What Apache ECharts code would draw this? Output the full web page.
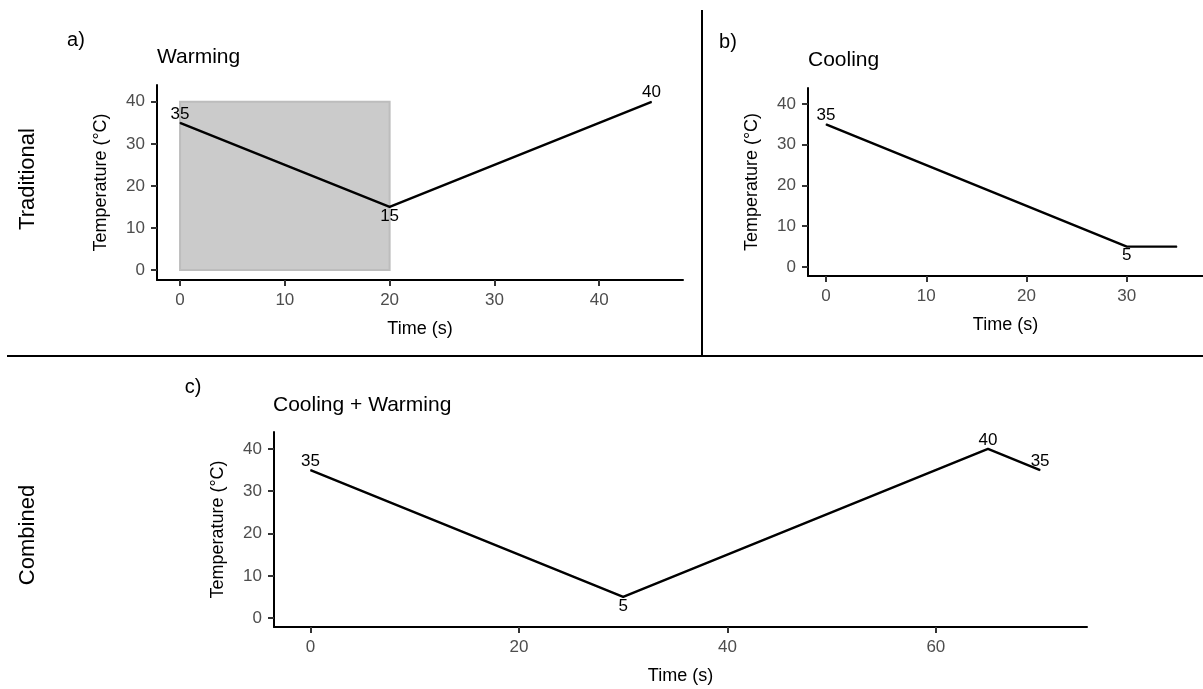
<!DOCTYPE html>
<html>
<head>
<meta charset="utf-8">
<script src="https://cdn.jsdelivr.net/npm/echarts@6/dist/echarts.min.js"></script>
<style>
html,body{margin:0;padding:0;background:#fff;}
#chart{width:1203px;height:689px;}
</style>
</head>
<body>
<div id="chart"></div>
<script>
// ---- data ----
const warmTime = [0, 20, 45];
const warmTemp = [35, 15, 40];
const warmLabels = ['35', '15', '40'];
const shadeTime = [0, 20];
const shadeTemp = [0, 40];

const coolTime = [0, 30, 35];
const coolTemp = [35, 5, 5];
const coolLabels = ['35', '5', ''];

const combTime = [0, 30, 65, 70];
const combTemp = [35, 5, 40, 35];
const combLabels = ['35', '5', '40', '35'];

const yTicks = [0, 10, 20, 30, 40];
const xTicksA = [0, 10, 20, 30, 40];
const xTicksB = [0, 10, 20, 30];
const xTicksC = [0, 20, 40, 60];

const panelTitles = ['Warming', 'Cooling', 'Cooling + Warming'];
const panelTags = ['a)', 'b)', 'c)'];
const rowLabels = ['Traditional', 'Combined'];
const xName = 'Time (s)';
const yName = 'Temperature (°C)';

// ---- chart ----
const FONT = '"Liberation Sans", Arial, sans-serif';
const chart = echarts.init(document.getElementById('chart'), null, {renderer: 'canvas'});

function xAx(gi, min, max, ticks) {
  return {
    type: 'value', gridIndex: gi, min: min, max: max,
    axisLine: {show: true, onZero: false, lineStyle: {color: '#000', width: 2}},
    axisTick: {show: true, customValues: ticks, length: 6, lineStyle: {color: '#333', width: 2}},
    axisLabel: {customValues: ticks, color: '#4d4d4d', fontSize: 17, margin: 12, fontFamily: FONT},
    splitLine: {show: false},
    name: xName, nameLocation: 'middle', nameGap: 40,
    nameTextStyle: {color: '#000', fontSize: 18, fontFamily: FONT}
  };
}
function yAx(gi, min, max) {
  return {
    type: 'value', gridIndex: gi, min: min, max: max,
    axisLine: {show: true, onZero: false, lineStyle: {color: '#000', width: 2}},
    axisTick: {show: true, customValues: yTicks, length: 6, lineStyle: {color: '#333', width: 2}},
    axisLabel: {customValues: yTicks, color: '#4d4d4d', fontSize: 17, margin: 12, fontFamily: FONT},
    splitLine: {show: false},
    name: yName, nameLocation: 'middle', nameGap: 47,
    nameTextStyle: {color: '#000', fontSize: 18, fontFamily: FONT}
  };
}

function buildData(times, temps, labels) {
  return times.map(function (t, i) {
    const interior = i > 0 && i < temps.length - 1;
    const isMin = interior && temps[i] <= temps[i - 1] && temps[i] <= temps[i + 1];
    return {
      value: [t, temps[i]],
      label: {
        show: labels[i] !== '',
        formatter: labels[i],
        position: isMin ? 'bottom' : 'top',
        distance: 0
      }
    };
  });
}

function lineSeries(xi, data, extra) {
  const s = {
    type: 'line', xAxisIndex: xi, yAxisIndex: xi,
    data: data,
    symbol: 'circle', symbolSize: 1, showSymbol: true,
    itemStyle: {color: '#000'},
    lineStyle: {color: '#000', width: 2.4},
    label: {color: '#000', fontSize: 17, fontFamily: FONT},
    silent: true, animation: false, z: 3
  };
  return Object.assign(s, extra || {});
}

const option = {
  animation: false,
  backgroundColor: '#fff',
  textStyle: {fontFamily: FONT},
  grid: [
    {left: 157, right: 520, top: 85, bottom: 409, containLabel: false},
    {left: 808, right: 0, top: 88, bottom: 413, containLabel: false},
    {left: 274, right: 116, top: 432, bottom: 62, containLabel: false}
  ],
  xAxis: [
    xAx(0, -2.2, 48, xTicksA),
    xAx(1, -1.8, 37.6, xTicksB),
    xAx(2, -3.5, 74.5, xTicksC)
  ],
  yAxis: [
    yAx(0, -2.4, 44),
    yAx(1, -2.2, 43.9),
    yAx(2, -2.1, 44)
  ],
  series: [
    lineSeries(0, buildData(warmTime, warmTemp, warmLabels), {
      markArea: {
        silent: true,
        itemStyle: {color: '#cbcbcb', borderColor: '#bdbdbd', borderWidth: 2},
        data: [[{coord: [shadeTime[0], shadeTemp[0]]}, {coord: [shadeTime[1], shadeTemp[1]]}]]
      }
    }),
    lineSeries(1, buildData(coolTime, coolTemp, coolLabels)),
    lineSeries(2, buildData(combTime, combTemp, combLabels))
  ],
  graphic: [
    {type: 'line', shape: {x1: 702, y1: 10, x2: 702, y2: 356}, style: {stroke: '#000', lineWidth: 2}},
    {type: 'line', shape: {x1: 7, y1: 356, x2: 1203, y2: 356}, style: {stroke: '#000', lineWidth: 2}},
    {type: 'text', x: 76, y: 40, style: {text: panelTags[0], fontSize: 20, fontFamily: FONT, fill: '#000', align: 'center', verticalAlign: 'middle'}},
    {type: 'text', x: 728, y: 42, style: {text: panelTags[1], fontSize: 20, fontFamily: FONT, fill: '#000', align: 'center', verticalAlign: 'middle'}},
    {type: 'text', x: 193, y: 387, style: {text: panelTags[2], fontSize: 20, fontFamily: FONT, fill: '#000', align: 'center', verticalAlign: 'middle'}},
    {type: 'text', x: 157, y: 57, style: {text: panelTitles[0], fontSize: 21, fontFamily: FONT, fill: '#000', align: 'left', verticalAlign: 'middle'}},
    {type: 'text', x: 808, y: 60, style: {text: panelTitles[1], fontSize: 21, fontFamily: FONT, fill: '#000', align: 'left', verticalAlign: 'middle'}},
    {type: 'text', x: 273, y: 405, style: {text: panelTitles[2], fontSize: 21, fontFamily: FONT, fill: '#000', align: 'left', verticalAlign: 'middle'}},
    {type: 'text', x: 28, y: 179, rotation: Math.PI / 2, style: {text: rowLabels[0], fontSize: 22, fontFamily: FONT, fill: '#000', align: 'center', verticalAlign: 'middle'}},
    {type: 'text', x: 28, y: 535, rotation: Math.PI / 2, style: {text: rowLabels[1], fontSize: 22, fontFamily: FONT, fill: '#000', align: 'center', verticalAlign: 'middle'}}
  ]
};
chart.setOption(option);
</script>
</body>
</html>
